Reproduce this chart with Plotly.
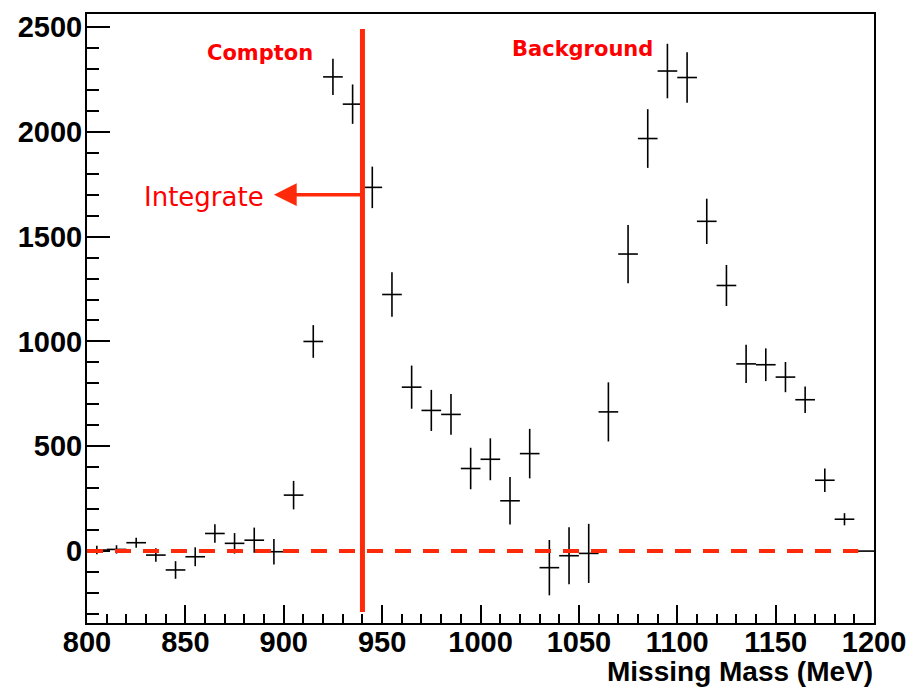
import plotly.graph_objects as go

# Histogram bin centres (MeV), contents and errors
bin_centers = [805, 815, 825, 835, 845, 855, 865, 875, 885, 895,
               905, 915, 925, 935, 945, 955, 965, 975, 985, 995,
               1005, 1015, 1025, 1035, 1045, 1055, 1065, 1075, 1085, 1095,
               1105, 1115, 1125, 1135, 1145, 1155, 1165, 1175, 1185, 1195]
counts = [5, 8, 40, -19, -90, -27, 84, 37, 52, -3,
          267, 1000, 2262, 2132, 1735, 1224, 782, 671, 652, 394,
          438, 240, 465, -79, -22, -11, 664, 1417, 1968, 2290,
          2259, 1573, 1267, 893, 889, 830, 722, 338, 152, 0]
errors = [20, 20, 24, 32, 42, 45, 44, 49, 60, 61,
          68, 78, 86, 94, 99, 106, 103, 98, 97, 99,
          100, 113, 118, 132, 136, 141, 141, 139, 140, 130,
          120, 108, 98, 91, 78, 72, 63, 56, 29, 0]
half_bin = [5] * len(bin_centers)

compton_cut = 940
cut_line_ymin = -290
cut_line_ymax = 2490
integrate_arrow_tip = 895
integrate_arrow_y = 1700

RED_LINE = "#ff2a0a"
RED_TEXT = "#ff0000"

fig = go.Figure()

fig.add_trace(go.Scatter(
    x=bin_centers, y=counts,
    mode="markers",
    marker=dict(size=0.1, color="black", opacity=0),
    error_x=dict(type="data", array=half_bin, width=0, thickness=1.6, color="black"),
    error_y=dict(type="data", array=errors, width=0, thickness=1.6, color="black"),
    showlegend=False,
    hoverinfo="x+y",
))

# zero line (dashed)
fig.add_shape(type="line", xref="x", yref="y", x0=800, x1=1192, y0=0, y1=0,
              line=dict(color=RED_LINE, width=4, dash="16px,12px"))
# vertical cut line
fig.add_shape(type="line", xref="x", yref="y", x0=compton_cut, x1=compton_cut,
              y0=cut_line_ymin, y1=cut_line_ymax,
              line=dict(color=RED_LINE, width=5))

# Integrate arrow
fig.add_annotation(x=integrate_arrow_tip, y=integrate_arrow_y,
                   ax=compton_cut, ay=integrate_arrow_y,
                   xref="x", yref="y", axref="x", ayref="y",
                   text="", showarrow=True, arrowhead=2, arrowsize=1.3,
                   arrowwidth=3.5, arrowcolor=RED_LINE)

fig.add_annotation(x=859.5, y=1690, xref="x", yref="y", text="Integrate",
                   showarrow=False, xanchor="center", yanchor="middle",
                   font=dict(family="DejaVu Sans", size=26, color=RED_TEXT))
fig.add_annotation(x=888, y=2376, xref="x", yref="y", text="<b>Compton</b>",
                   showarrow=False, xanchor="center", yanchor="middle",
                   font=dict(family="DejaVu Sans", size=21, color=RED_TEXT))
fig.add_annotation(x=1052, y=2395, xref="x", yref="y", text="<b>Background</b>",
                   showarrow=False, xanchor="center", yanchor="middle",
                   font=dict(family="DejaVu Sans", size=21, color=RED_TEXT))

# x-axis title (right-aligned, ROOT style)
fig.add_annotation(x=1, y=-0.079, xref="paper", yref="paper",
                   text="<b>Missing Mass (MeV)</b>", showarrow=False,
                   xanchor="right", yanchor="middle", borderpad=0,
                   font=dict(family="Liberation Sans", size=28, color="black"))

tick_font = dict(family="Liberation Sans", size=29, color="black")

fig.update_layout(
    width=921, height=694,
    margin=dict(l=87, r=47, t=14, b=71, autoexpand=False),
    paper_bgcolor="white", plot_bgcolor="white",
    xaxis=dict(
        range=[800, 1200], showgrid=False, zeroline=False, automargin=False,
        showline=True, linecolor="black", linewidth=2, mirror=True,
        ticks="inside", ticklen=18, tickwidth=2, tickcolor="black",
        tick0=800, dtick=50, ticklabelstandoff=-8,
        tickfont=tick_font, tickprefix="<b>", ticksuffix="</b>",
        minor=dict(ticks="inside", ticklen=9, tickwidth=2, tickcolor="black",
                   dtick=10, showgrid=False),
    ),
    yaxis=dict(
        range=[-343, 2562], showgrid=False, zeroline=False, automargin=False,
        showline=True, linecolor="black", linewidth=2, mirror=True,
        ticks="inside", ticklen=23, tickwidth=2, tickcolor="black",
        tick0=0, dtick=500, ticklabelstandoff=-3,
        tickfont=tick_font, tickprefix="<b>", ticksuffix="</b>",
        minor=dict(ticks="inside", ticklen=12, tickwidth=2, tickcolor="black",
                   dtick=100, showgrid=False),
    ),
)

# remove the default 8px page margin so the figure fills the window exactly
fig.write_html("out.html",
               config={"displayModeBar": False},
               post_script="document.body.style.margin='0';document.body.style.overflow='hidden';")
